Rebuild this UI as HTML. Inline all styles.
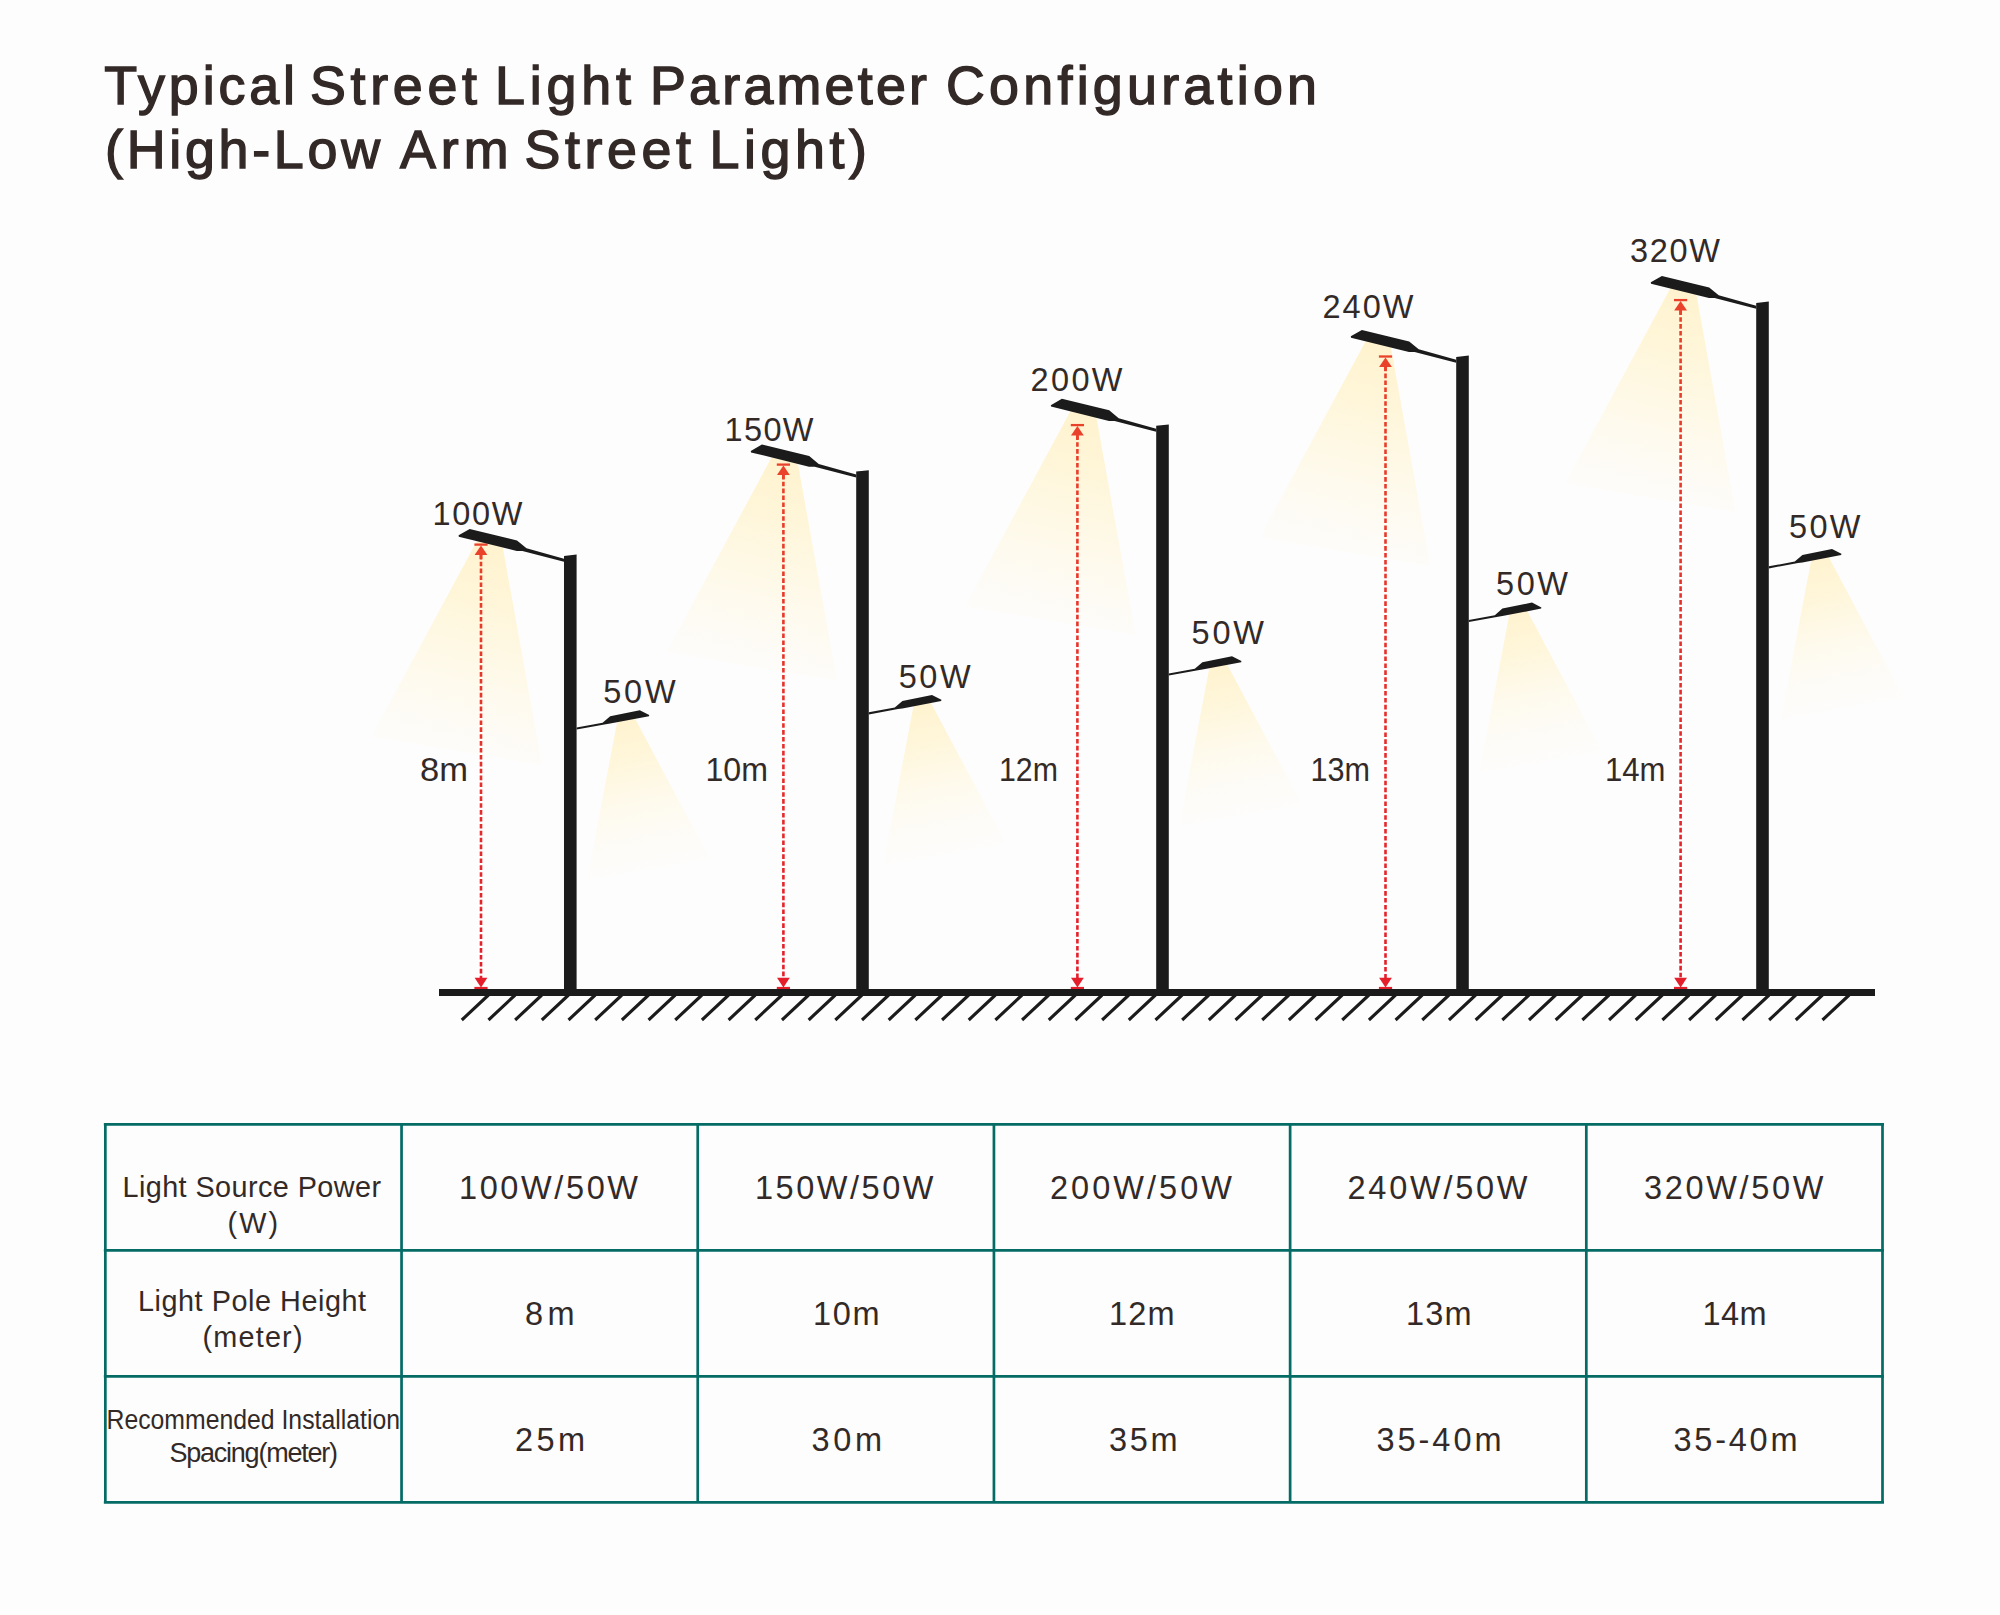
<!DOCTYPE html>
<html><head><meta charset="utf-8"><style>
html,body{margin:0;padding:0;background:#fdfdfd;}
body{width:2000px;height:1615px;overflow:hidden;position:relative;}
svg{position:absolute;left:0;top:0;display:block;}
text{font-family:"Liberation Sans",sans-serif;fill:#332a28;}
</style></head><body>
<svg width="2000" height="1615" viewBox="0 0 2000 1615">
<defs><linearGradient id="gu" gradientUnits="userSpaceOnUse" x1="-75" y1="-8" x2="-128" y2="212"><stop offset="0" stop-color="#fff3cf"/><stop offset="0.25" stop-color="#fff5d5" stop-opacity="0.88"/><stop offset="0.55" stop-color="#fff7dc" stop-opacity="0.6"/><stop offset="0.8" stop-color="#fff7e4" stop-opacity="0.3"/><stop offset="1" stop-color="#fff8ea" stop-opacity="0.06"/></linearGradient><linearGradient id="gl" gradientUnits="userSpaceOnUse" x1="49" y1="-10" x2="82" y2="162"><stop offset="0" stop-color="#fff3cf"/><stop offset="0.25" stop-color="#fff5d5" stop-opacity="0.82"/><stop offset="0.5" stop-color="#fff7dc" stop-opacity="0.48"/><stop offset="0.75" stop-color="#fff7e4" stop-opacity="0.18"/><stop offset="1" stop-color="#fff8ea" stop-opacity="0"/></linearGradient><linearGradient id="ar0" gradientUnits="userSpaceOnUse" x1="0" y1="544.6" x2="0" y2="989"><stop offset="0" stop-color="#e9412a"/><stop offset="1" stop-color="#e41d2a"/></linearGradient><linearGradient id="ar1" gradientUnits="userSpaceOnUse" x1="0" y1="464.6" x2="0" y2="989"><stop offset="0" stop-color="#e9412a"/><stop offset="1" stop-color="#e41d2a"/></linearGradient><linearGradient id="ar2" gradientUnits="userSpaceOnUse" x1="0" y1="425.1" x2="0" y2="989"><stop offset="0" stop-color="#e9412a"/><stop offset="1" stop-color="#e41d2a"/></linearGradient><linearGradient id="ar3" gradientUnits="userSpaceOnUse" x1="0" y1="356.5" x2="0" y2="989"><stop offset="0" stop-color="#e9412a"/><stop offset="1" stop-color="#e41d2a"/></linearGradient><linearGradient id="ar4" gradientUnits="userSpaceOnUse" x1="0" y1="300.1" x2="0" y2="989"><stop offset="0" stop-color="#e9412a"/><stop offset="1" stop-color="#e41d2a"/></linearGradient></defs>
<g transform="translate(562.6,554.8)"><polygon points="-84.5,-16 -60.1,-9 -20.7,210 -191.2,182" fill="url(#gu)"/></g>
<g transform="translate(576.6,729.6)"><polygon points="40.8,-9 57.9,-12 133,129 10.4,151" fill="url(#gl)"/></g>
<g transform="translate(857.6,470.5)"><polygon points="-84.5,-16 -60.1,-9 -20.7,210 -191.2,182" fill="url(#gu)"/></g>
<g transform="translate(872.8,714.4)"><polygon points="40.8,-9 57.9,-12 133,129 10.4,151" fill="url(#gl)"/></g>
<g transform="translate(1156.2,424.7)"><polygon points="-84.5,-16 -60.1,-9 -20.7,210 -191.2,182" fill="url(#gu)"/></g>
<g transform="translate(1168.8,675.6)"><polygon points="40.8,-9 57.9,-12 133,129 10.4,151" fill="url(#gl)"/></g>
<g transform="translate(1450.9,355.8)"><polygon points="-84.5,-16 -60.1,-9 -20.7,210 -191.2,182" fill="url(#gu)"/></g>
<g transform="translate(1468.8,622)"><polygon points="40.8,-9 57.9,-12 133,129 10.4,151" fill="url(#gl)"/></g>
<g transform="translate(1756.2,301.8)"><polygon points="-84.5,-16 -60.1,-9 -20.7,210 -191.2,182" fill="url(#gu)"/></g>
<g transform="translate(1770.5,568.4)"><polygon points="40.8,-9 57.9,-12 133,129 10.4,151" fill="url(#gl)"/></g>
<line x1="481" y1="554.8" x2="481" y2="978.5" stroke="url(#ar0)" stroke-width="2.6" stroke-dasharray="4.6 2.3"/>
<rect x="474.4" y="543.45" width="13.2" height="2.3" fill="#e9412a"/>
<polygon points="481,545.5 487.4,555 474.6,555" fill="#e9412a"/>
<rect x="479.65" y="554.6" width="2.7" height="4.5" fill="#e9412a"/>
<rect x="474.4" y="986.9" width="13.2" height="2.3" fill="#e41e2a"/>
<polygon points="481,987.5 487.4,977.8 474.6,977.8" fill="#e41e2a"/>
<line x1="783.4" y1="474.8" x2="783.4" y2="978.5" stroke="url(#ar1)" stroke-width="2.6" stroke-dasharray="4.6 2.3"/>
<rect x="776.8" y="463.45" width="13.2" height="2.3" fill="#e9412a"/>
<polygon points="783.4,465.5 789.8,475 777,475" fill="#e9412a"/>
<rect x="782.05" y="474.6" width="2.7" height="4.5" fill="#e9412a"/>
<rect x="776.8" y="986.9" width="13.2" height="2.3" fill="#e41e2a"/>
<polygon points="783.4,987.5 789.8,977.8 777,977.8" fill="#e41e2a"/>
<line x1="1077.4" y1="435.3" x2="1077.4" y2="978.5" stroke="url(#ar2)" stroke-width="2.6" stroke-dasharray="4.6 2.3"/>
<rect x="1070.8" y="423.95" width="13.2" height="2.3" fill="#e9412a"/>
<polygon points="1077.4,426 1083.8,435.5 1071,435.5" fill="#e9412a"/>
<rect x="1076.05" y="435.1" width="2.7" height="4.5" fill="#e9412a"/>
<rect x="1070.8" y="986.9" width="13.2" height="2.3" fill="#e41e2a"/>
<polygon points="1077.4,987.5 1083.8,977.8 1071,977.8" fill="#e41e2a"/>
<line x1="1385.5" y1="366.7" x2="1385.5" y2="978.5" stroke="url(#ar3)" stroke-width="2.6" stroke-dasharray="4.6 2.3"/>
<rect x="1378.9" y="355.35" width="13.2" height="2.3" fill="#e9412a"/>
<polygon points="1385.5,357.4 1391.9,366.9 1379.1,366.9" fill="#e9412a"/>
<rect x="1384.15" y="366.5" width="2.7" height="4.5" fill="#e9412a"/>
<rect x="1378.9" y="986.9" width="13.2" height="2.3" fill="#e41e2a"/>
<polygon points="1385.5,987.5 1391.9,977.8 1379.1,977.8" fill="#e41e2a"/>
<line x1="1680.6" y1="310.3" x2="1680.6" y2="978.5" stroke="url(#ar4)" stroke-width="2.6" stroke-dasharray="4.6 2.3"/>
<rect x="1674" y="298.95" width="13.2" height="2.3" fill="#e9412a"/>
<polygon points="1680.6,301 1687,310.5 1674.2,310.5" fill="#e9412a"/>
<rect x="1679.25" y="310.1" width="2.7" height="4.5" fill="#e9412a"/>
<rect x="1674" y="986.9" width="13.2" height="2.3" fill="#e41e2a"/>
<polygon points="1680.6,987.5 1687,977.8 1674.2,977.8" fill="#e41e2a"/>
<polygon points="564,555.9 576.6,554.6 576.6,991 564,991" fill="#1b1b1b"/>
<polygon points="458.6,535.3 469.7,528.9 517,540.4 526.5,548.3 564,558.8 564,561.8 522.4,551 516.8,551 458.8,536.7" fill="#1b1b1b"/>
<polygon points="576.6,727.5 602.6,722.8 610.2,716.2 639.8,710.2 649.2,715 649,716.2 610.2,723.6 605.8,724.3 576.6,729.6" fill="#1b1b1b"/>
<polygon points="856.2,471.6 868.8,470.3 868.8,991 856.2,991" fill="#1b1b1b"/>
<polygon points="750.8,451 761.9,444.6 809.2,456.1 818.7,464 856.2,474.5 856.2,477.5 814.6,466.7 809,466.7 751,452.4" fill="#1b1b1b"/>
<polygon points="868.8,712.3 894.8,707.6 902.4,701 932,695 941.4,699.8 941.2,701 902.4,708.4 898,709.1 868.8,714.4" fill="#1b1b1b"/>
<polygon points="1156.2,425.8 1168.8,424.5 1168.8,991 1156.2,991" fill="#1b1b1b"/>
<polygon points="1050.8,405.2 1061.9,398.8 1109.2,410.3 1118.7,418.2 1156.2,428.7 1156.2,431.7 1114.6,420.9 1109,420.9 1051,406.6" fill="#1b1b1b"/>
<polygon points="1168.8,673.5 1194.8,668.8 1202.4,662.2 1232,656.2 1241.4,661 1241.2,662.2 1202.4,669.6 1198,670.3 1168.8,675.6" fill="#1b1b1b"/>
<polygon points="1456.2,356.9 1468.8,355.6 1468.8,991 1456.2,991" fill="#1b1b1b"/>
<polygon points="1350.8,336.3 1361.9,329.9 1409.2,341.4 1418.7,349.3 1456.2,359.8 1456.2,362.8 1414.6,352 1409,352 1351,337.7" fill="#1b1b1b"/>
<polygon points="1468.8,619.9 1494.8,615.2 1502.4,608.6 1532,602.6 1541.4,607.4 1541.2,608.6 1502.4,616 1498,616.7 1468.8,622" fill="#1b1b1b"/>
<polygon points="1756.2,302.9 1768.8,301.6 1768.8,991 1756.2,991" fill="#1b1b1b"/>
<polygon points="1650.8,282.3 1661.9,275.9 1709.2,287.4 1718.7,295.3 1756.2,305.8 1756.2,308.8 1714.6,298 1709,298 1651,283.7" fill="#1b1b1b"/>
<polygon points="1768.8,566.3 1794.8,561.6 1802.4,555 1832,549 1841.4,553.8 1841.2,555 1802.4,562.4 1798,563.1 1768.8,568.4" fill="#1b1b1b"/>
<rect x="439" y="989" width="1436" height="7" fill="#1b1b1b"/>
<path d="M488.5 995L461.8 1020M515.18 995L488.48 1020M541.86 995L515.16 1020M568.54 995L541.84 1020M595.22 995L568.52 1020M621.9 995L595.2 1020M648.58 995L621.88 1020M675.26 995L648.56 1020M701.94 995L675.24 1020M728.62 995L701.92 1020M755.3 995L728.6 1020M781.98 995L755.28 1020M808.66 995L781.96 1020M835.34 995L808.64 1020M862.02 995L835.32 1020M888.7 995L862 1020M915.38 995L888.68 1020M942.06 995L915.36 1020M968.74 995L942.04 1020M995.42 995L968.72 1020M1022.1 995L995.4 1020M1048.78 995L1022.08 1020M1075.46 995L1048.76 1020M1102.14 995L1075.44 1020M1128.82 995L1102.12 1020M1155.5 995L1128.8 1020M1182.18 995L1155.48 1020M1208.86 995L1182.16 1020M1235.54 995L1208.84 1020M1262.22 995L1235.52 1020M1288.9 995L1262.2 1020M1315.58 995L1288.88 1020M1342.26 995L1315.56 1020M1368.94 995L1342.24 1020M1395.62 995L1368.92 1020M1422.3 995L1395.6 1020M1448.98 995L1422.28 1020M1475.66 995L1448.96 1020M1502.34 995L1475.64 1020M1529.02 995L1502.32 1020M1555.7 995L1529 1020M1582.38 995L1555.68 1020M1609.06 995L1582.36 1020M1635.74 995L1609.04 1020M1662.42 995L1635.72 1020M1689.1 995L1662.4 1020M1715.78 995L1689.08 1020M1742.46 995L1715.76 1020M1769.14 995L1742.44 1020M1795.82 995L1769.12 1020M1822.5 995L1795.8 1020M1849.18 995L1822.48 1020" stroke="#1b1b1b" stroke-width="3.1" fill="none"/>
<path d="M105.35 1123.05V1503.75M401.54 1123.05V1503.75M697.73 1123.05V1503.75M993.93 1123.05V1503.75M1290.12 1123.05V1503.75M1586.31 1123.05V1503.75M1882.5 1123.05V1503.75M103.85 1124.35H1884M103.85 1250.38H1884M103.85 1376.42H1884M103.85 1502.45H1884" stroke="#046b65" stroke-width="2.7" fill="none"/>
<text x="104.25" y="104.2" font-size="53.8" font-weight="normal" text-anchor="start" stroke="#332a28" stroke-width="1.4" textLength="190.75" lengthAdjust="spacing">Typical</text>
<text x="310" y="104.2" font-size="53.8" font-weight="normal" text-anchor="start" stroke="#332a28" stroke-width="1.4" textLength="167" lengthAdjust="spacing">Street</text>
<text x="495" y="104.2" font-size="53.8" font-weight="normal" text-anchor="start" stroke="#332a28" stroke-width="1.4" textLength="136" lengthAdjust="spacing">Light</text>
<text x="650" y="104.2" font-size="53.8" font-weight="normal" text-anchor="start" stroke="#332a28" stroke-width="1.4" textLength="277" lengthAdjust="spacing">Parameter</text>
<text x="946" y="104.2" font-size="53.8" font-weight="normal" text-anchor="start" stroke="#332a28" stroke-width="1.4" textLength="371" lengthAdjust="spacing">Configuration</text>
<text x="105" y="167.9" font-size="53.8" font-weight="normal" text-anchor="start" stroke="#332a28" stroke-width="1.4" textLength="275" lengthAdjust="spacing">(High-Low</text>
<text x="400" y="167.9" font-size="53.8" font-weight="normal" text-anchor="start" stroke="#332a28" stroke-width="1.4" textLength="108.5" lengthAdjust="spacing">Arm</text>
<text x="524.5" y="167.9" font-size="53.8" font-weight="normal" text-anchor="start" stroke="#332a28" stroke-width="1.4" textLength="166.5" lengthAdjust="spacing">Street</text>
<text x="709.5" y="167.9" font-size="53.8" font-weight="normal" text-anchor="start" stroke="#332a28" stroke-width="1.4" textLength="157.5" lengthAdjust="spacing">Light)</text>
<text x="432.5" y="524.8" font-size="32.5" font-weight="normal" text-anchor="start" textLength="90" lengthAdjust="spacing">100W</text>
<text x="724.5" y="441.3" font-size="32.5" font-weight="normal" text-anchor="start" textLength="89" lengthAdjust="spacing">150W</text>
<text x="1030.5" y="391.3" font-size="32.5" font-weight="normal" text-anchor="start" textLength="92" lengthAdjust="spacing">200W</text>
<text x="1322.5" y="318.3" font-size="32.5" font-weight="normal" text-anchor="start" textLength="91" lengthAdjust="spacing">240W</text>
<text x="1630" y="261.7" font-size="32.5" font-weight="normal" text-anchor="start" textLength="90" lengthAdjust="spacing">320W</text>
<text x="603.2" y="702.6" font-size="32.5" font-weight="normal" text-anchor="start" textLength="72.5" lengthAdjust="spacing">50W</text>
<text x="898.7" y="687.6" font-size="32.5" font-weight="normal" text-anchor="start" textLength="72" lengthAdjust="spacing">50W</text>
<text x="1191.5" y="644.4" font-size="32.5" font-weight="normal" text-anchor="start" textLength="72.5" lengthAdjust="spacing">50W</text>
<text x="1496" y="595.1" font-size="32.5" font-weight="normal" text-anchor="start" textLength="72" lengthAdjust="spacing">50W</text>
<text x="1789" y="538.4" font-size="32.5" font-weight="normal" text-anchor="start" textLength="71.5" lengthAdjust="spacing">50W</text>
<text x="420" y="781" font-size="32.5" font-weight="normal" text-anchor="start" textLength="48" lengthAdjust="spacingAndGlyphs">8m</text>
<text x="705.5" y="781" font-size="32.5" font-weight="normal" text-anchor="start" textLength="62.5" lengthAdjust="spacingAndGlyphs">10m</text>
<text x="999" y="781" font-size="32.5" font-weight="normal" text-anchor="start" textLength="59" lengthAdjust="spacingAndGlyphs">12m</text>
<text x="1310.5" y="781" font-size="32.5" font-weight="normal" text-anchor="start" textLength="59.5" lengthAdjust="spacingAndGlyphs">13m</text>
<text x="1605" y="780.8" font-size="32.5" font-weight="normal" text-anchor="start" textLength="60.5" lengthAdjust="spacingAndGlyphs">14m</text>
<text x="251.75" y="1196.75" font-size="28.8" font-weight="normal" text-anchor="middle" textLength="258.5" lengthAdjust="spacing">Light Source Power</text>
<text x="252.75" y="1232.7" font-size="28.8" font-weight="normal" text-anchor="middle" textLength="50.5" lengthAdjust="spacing">(W)</text>
<text x="252" y="1311" font-size="28.8" font-weight="normal" text-anchor="middle" textLength="228" lengthAdjust="spacing">Light Pole Height</text>
<text x="252.5" y="1346.7" font-size="28.8" font-weight="normal" text-anchor="middle" textLength="100" lengthAdjust="spacing">(meter)</text>
<text x="253.25" y="1429.4" font-size="27" font-weight="normal" text-anchor="middle" textLength="293.5" lengthAdjust="spacingAndGlyphs">Recommended Installation</text>
<text x="253.75" y="1462" font-size="27" font-weight="normal" text-anchor="middle" textLength="168.5" lengthAdjust="spacing">Spacing(meter)</text>
<text x="548.5" y="1198.6" font-size="32.5" font-weight="normal" text-anchor="middle" textLength="179" lengthAdjust="spacing">100W/50W</text>
<text x="844.25" y="1198.6" font-size="32.5" font-weight="normal" text-anchor="middle" textLength="178.5" lengthAdjust="spacing">150W/50W</text>
<text x="1141" y="1198.6" font-size="32.5" font-weight="normal" text-anchor="middle" textLength="182" lengthAdjust="spacing">200W/50W</text>
<text x="1437.5" y="1198.6" font-size="32.5" font-weight="normal" text-anchor="middle" textLength="180" lengthAdjust="spacing">240W/50W</text>
<text x="1733.75" y="1198.6" font-size="32.5" font-weight="normal" text-anchor="middle" textLength="179.5" lengthAdjust="spacing">320W/50W</text>
<text x="549.75" y="1325.2" font-size="32.5" font-weight="normal" text-anchor="middle" textLength="49.5" lengthAdjust="spacing">8m</text>
<text x="846.25" y="1325.2" font-size="32.5" font-weight="normal" text-anchor="middle" textLength="66.5" lengthAdjust="spacing">10m</text>
<text x="1141.75" y="1325.2" font-size="32.5" font-weight="normal" text-anchor="middle" textLength="65.5" lengthAdjust="spacing">12m</text>
<text x="1438.75" y="1325.2" font-size="32.5" font-weight="normal" text-anchor="middle" textLength="65.5" lengthAdjust="spacing">13m</text>
<text x="1734.5" y="1325.2" font-size="32.5" font-weight="normal" text-anchor="middle" textLength="64" lengthAdjust="spacing">14m</text>
<text x="550" y="1451.2" font-size="32.5" font-weight="normal" text-anchor="middle" textLength="70" lengthAdjust="spacing">25m</text>
<text x="846.75" y="1451.2" font-size="32.5" font-weight="normal" text-anchor="middle" textLength="70.5" lengthAdjust="spacing">30m</text>
<text x="1143.25" y="1451.2" font-size="32.5" font-weight="normal" text-anchor="middle" textLength="68.5" lengthAdjust="spacing">35m</text>
<text x="1439" y="1451.2" font-size="32.5" font-weight="normal" text-anchor="middle" textLength="125" lengthAdjust="spacing">35-40m</text>
<text x="1735.5" y="1451.2" font-size="32.5" font-weight="normal" text-anchor="middle" textLength="124" lengthAdjust="spacing">35-40m</text>
</svg>
</body></html>
